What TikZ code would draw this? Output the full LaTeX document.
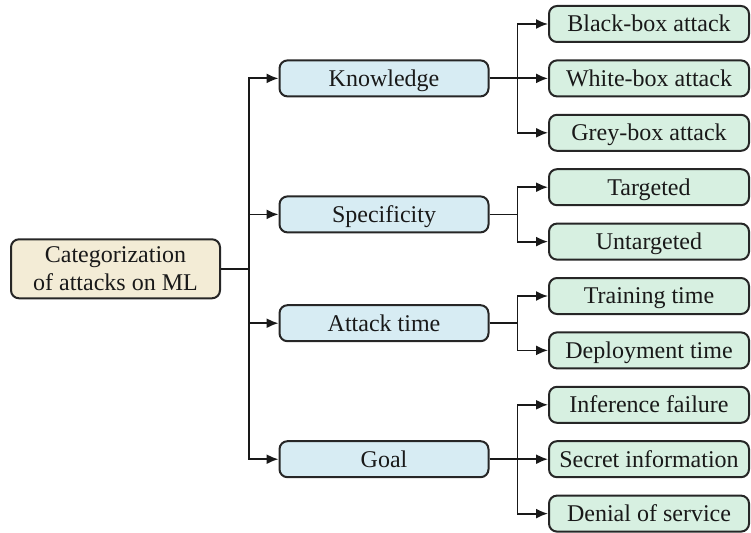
\documentclass[tikz,border=0pt]{standalone}
\usepackage{fontspec}
\setmainfont{Liberation Serif}
\usetikzlibrary{arrows.meta}

\definecolor{rootfill}{RGB}{243,236,214}
\definecolor{catfill}{RGB}{215,236,243}
\definecolor{leaffill}{RGB}{215,240,225}

\tikzset{
  box/.style={draw=black!85, line width=2pt, rounded corners=8pt, text=black!90,
    font=\fontsize{24}{28}\selectfont, inner sep=0pt, align=center},
  rootbox/.style={box, fill=rootfill, minimum width=209pt, minimum height=59pt},
  catbox/.style={box, fill=catfill, minimum width=209pt, minimum height=36pt,
    text height=15.8pt, text depth=0pt},
  leafbox/.style={box, fill=leaffill, minimum width=200pt, minimum height=36pt,
    text height=15.8pt, text depth=0pt},
  link/.style={line width=1.8pt, draw=black!90, -{Latex[length=12pt,width=10pt]}},
}

\begin{document}
\begin{tikzpicture}[x=1pt, y=-1pt]
  \useasboundingbox (0,0) rectangle (751,532);

  \node[rootbox] (root) at (115.5,268.8) {Categorization\\of attacks on ML};

  \node[catbox] (know) at (384,78.4) {Knowledge};
  \node[catbox] (spec) at (384,214.4) {Specificity};
  \node[catbox] (time) at (384,323.2) {Attack time};
  \node[catbox] (goal) at (384,459.2) {Goal};

  \foreach \name/\y/\txt in {black/24/Black-box attack, white/78.4/White-box attack,
      grey/132.8/Grey-box attack, target/187.2/Targeted, untarget/241.6/Untargeted,
      train/296/Training time, deploy/350.4/Deployment time, infer/404.8/Inference failure,
      secret/459.2/Secret information, denial/513.6/Denial of service}
    \node[leafbox] (\name) at (649,\y) {\txt};

  % root to categories
  \foreach \c in {know,spec,time,goal}
    \draw[link] (root.east) -- ([xshift=28pt]root.east) |- (\c.west);

  % categories to leaves
  \foreach \p/\c in {know/black, know/white, know/grey, spec/target, spec/untarget,
      time/train, time/deploy, goal/infer, goal/secret, goal/denial}
    \draw[link] (\p.east) -- ([xshift=28pt]\p.east) |- (\c.west);
\end{tikzpicture}
\end{document}
